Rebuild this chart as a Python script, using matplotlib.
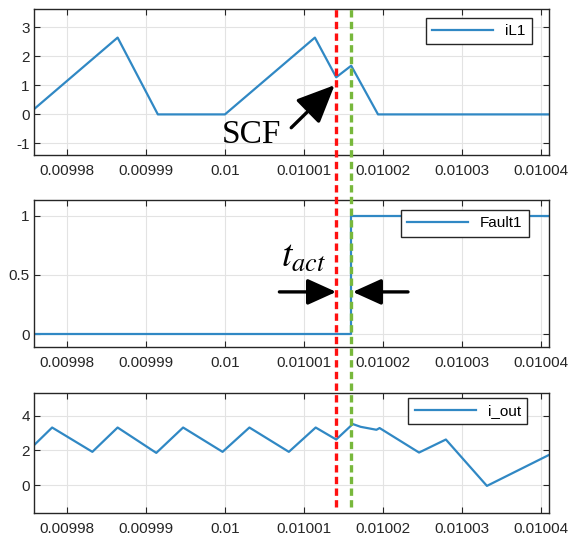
import numpy as np
import matplotlib
matplotlib.use('Agg')
import matplotlib.pyplot as plt
from matplotlib import ticker
from matplotlib.lines import Line2D
from matplotlib.transforms import blended_transform_factory

# ---- data ----
x_lim = (0.0099758, 0.0100411)
x_ticks = [0.00998, 0.00999, 0.01, 0.01001, 0.01002, 0.01003, 0.01004]

iL1_t = [0.0099758, 0.0099864, 0.0099915, 0.0100000, 0.0100114,
         0.0100141, 0.0100160, 0.0100194, 0.0100411]
iL1 = [0.18, 2.65, 0.0, 0.0, 2.65, 1.28, 1.68, 0.0, 0.0]

fault_t = [0.0099758, 0.0100160, 0.0100160, 0.0100411]
fault = [0, 0, 1, 1]

iout_t = [0.0099758, 0.0099781, 0.0099832, 0.0099864, 0.0099913, 0.0099947,
          0.0099997, 0.0100031, 0.0100081, 0.0100115, 0.0100141, 0.0100162,
          0.0100172, 0.0100192, 0.0100196, 0.0100246, 0.0100280, 0.0100332,
          0.0100411]
iout = [2.30, 3.32, 1.92, 3.32, 1.86, 3.32, 1.92, 3.32, 1.92, 3.32, 2.63, 3.52,
        3.36, 3.19, 3.29, 1.88, 2.63, -0.04, 1.75]

t_scf = 0.0100141   # red marker line
t_act = 0.0100160   # green marker line

blue = '#3088c4'
dark = '#262626'

plt.rcParams['font.family'] = ['Liberation Sans', 'DejaVu Sans']
plt.rcParams['mathtext.fontset'] = 'stix'

fig = plt.figure(figsize=(5.7, 5.4), dpi=100)
ax1 = fig.add_axes([0.0596, 0.713, 0.904, 0.270])
ax2 = fig.add_axes([0.0596, 0.357, 0.904, 0.272])
ax3 = fig.add_axes([0.0596, 0.050, 0.904, 0.222])


def style(ax, ylim, yticks):
    ax.set_xlim(*x_lim)
    ax.set_ylim(*ylim)
    ax.set_xticks(x_ticks)
    ax.set_yticks(yticks)
    ax.xaxis.set_major_formatter(ticker.FuncFormatter(lambda v, p: f'{v:g}'))
    ax.yaxis.set_major_formatter(ticker.FuncFormatter(lambda v, p: f'{v:g}'))
    ax.tick_params(direction='in', top=True, right=True, labelsize=11,
                   colors=dark, length=4, width=0.8)
    ax.tick_params(axis='x', pad=6.5)
    ax.tick_params(axis='y', pad=3)
    ax.grid(True, color='#e3e3e3', lw=0.8)
    ax.set_axisbelow(True)
    for s in ax.spines.values():
        s.set_color(dark)
        s.set_linewidth(1.0)


style(ax1, (-1.4, 3.63), [-1, 0, 1, 2, 3])
style(ax2, (-0.11, 1.13), [0, 0.5, 1])
style(ax3, (-1.6, 5.3), [0, 2, 4])

ax1.plot(iL1_t, iL1, color=blue, lw=1.6, label='iL1')
ax2.plot(fault_t, fault, color=blue, lw=1.6, label='Fault1')
ax3.plot(iout_t, iout, color=blue, lw=1.6, label='i_out')

leg_pos = [(ax1, 0.966, 0.94), (ax2, 0.960, 0.932), (ax3, 0.957, 0.961)]
for ax, lx, ly in leg_pos:
    lg = ax.legend(loc='upper right', bbox_to_anchor=(lx, ly), borderaxespad=0,
                   fontsize=11, handlelength=4, fancybox=False, framealpha=1)
    lg.get_frame().set_edgecolor(dark)
    lg.get_frame().set_linewidth(1.0)

# dashed marker lines spanning all panels
tr = blended_transform_factory(ax1.transData, fig.transFigure)
fig.add_artist(Line2D([t_scf, t_scf], [0.062, 0.987], transform=tr, color='#ff1010',
                      lw=2.4, linestyle=(0, (2.2, 1.3))))
fig.add_artist(Line2D([t_act, t_act], [0.062, 0.987], transform=tr, color='#78b83c',
                      lw=2.4, linestyle=(0, (2.2, 1.3))))

# annotations
ax1.text(0.0099996, -0.98, 'SCF', family='Liberation Serif', fontsize=24,
         ha='left', va='baseline', color='k')
ax1.annotate('', xy=(0.0100139, 1.01), xytext=(0.0100084, -0.46),
             arrowprops=dict(arrowstyle='-|>,head_length=0.45,head_width=0.2',
                             mutation_scale=52, lw=2.4, color='k',
                             shrinkA=0, shrinkB=0), annotation_clip=False)

ax2.text(0.0100071, 0.567, r'$t_{act}$', fontsize=27, ha='left', va='baseline')
ax2.annotate('', xy=(0.0100141, 0.357), xytext=(0.0100069, 0.357),
             arrowprops=dict(arrowstyle='-|>,head_length=0.42,head_width=0.19',
                             mutation_scale=42, lw=2.4, color='k',
                             shrinkA=0, shrinkB=0), annotation_clip=False)
ax2.annotate('', xy=(0.0100162, 0.357), xytext=(0.0100232, 0.357),
             arrowprops=dict(arrowstyle='-|>,head_length=0.42,head_width=0.19',
                             mutation_scale=42, lw=2.4, color='k',
                             shrinkA=0, shrinkB=0), annotation_clip=False)

fig.savefig('out.png', dpi=100)
